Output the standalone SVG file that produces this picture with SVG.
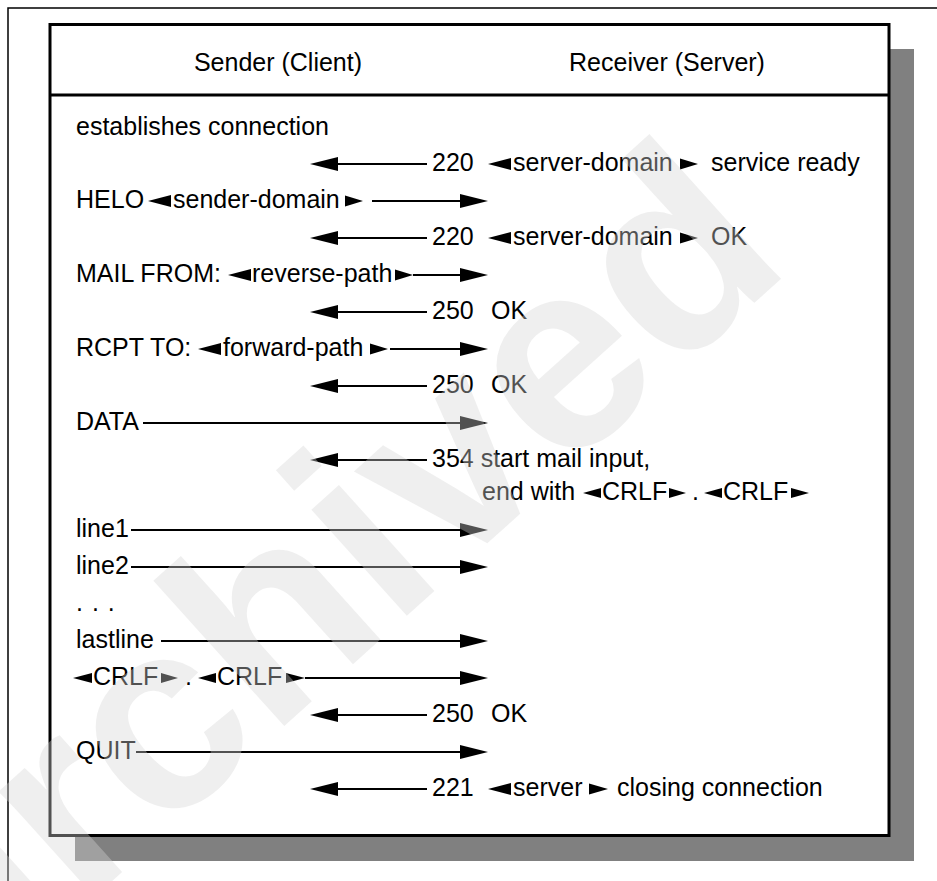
<svg xmlns="http://www.w3.org/2000/svg" width="937" height="881" viewBox="0 0 937 881">
<style>
text{font-family:"Liberation Sans",Arial,sans-serif;font-size:25px;fill:#000}
.hd{text-anchor:middle}
.ar{stroke:#000;stroke-width:2;fill:none;marker-end:url(#ah)}
.tri{fill:#000}
.wm{font-family:"Liberation Sans",Arial,sans-serif;font-weight:bold;font-size:270px;fill:#d5d5d5;fill-opacity:0.38}
</style>
<defs>
<marker id="ah" viewBox="0 0 28 14" refX="20" refY="7" markerWidth="28" markerHeight="14" markerUnits="userSpaceOnUse" orient="auto">
<path d="M0,0 L28,7 L0,14 z" fill="#000"/>
</marker>
</defs>
<rect width="937" height="881" fill="#fff"/>
<path d="M8,881 V8 H937" stroke="#000" stroke-width="1.5" fill="none"/>
<rect x="75" y="49" width="839" height="812" fill="#808080"/>
<g id="frame">
<rect x="50" y="24.5" width="839" height="811" fill="#fff" stroke="#000" stroke-width="3"/>
<line x1="50" y1="95" x2="889" y2="95" stroke="#000" stroke-width="3"/>
</g>
<g id="sender-header"><text class="hd" x="278" y="71">Sender (Client)</text></g>
<g id="receiver-header"><text class="hd" x="667" y="71">Receiver (Server)</text></g>

<g id="row0"><text x="76" y="135">establishes connection</text></g>

<g id="row1">
<text x="432" y="171">220</text>
<polygon class="tri" points="488,164 511,158 511,170"/>
<text x="513" y="171">server-domain</text>
<polygon class="tri" points="680,158.5 698,164 680,169.5"/>
<text x="711" y="171">service ready</text>
</g>
<g id="row2">
<text x="76" y="208">HELO</text>
<polygon class="tri" points="148,201 171,195 171,207"/>
<text x="173" y="208">sender-domain</text>
<polygon class="tri" points="345,195.5 363,201 345,206.5"/>
</g>
<g id="row3">
<text x="432" y="245">220</text>
<polygon class="tri" points="488,238 511,232 511,244"/>
<text x="513" y="245">server-domain</text>
<polygon class="tri" points="680,232.5 698,238 680,243.5"/>
<text x="711" y="245">OK</text>
</g>
<g id="row4">
<text x="76" y="282">MAIL FROM:</text>
<polygon class="tri" points="228,275 251,269 251,281"/>
<text x="252" y="282">reverse-path</text>
<polygon class="tri" points="395,269.5 413,275 395,280.5"/>
</g>
<g id="row5"><text x="432" y="319">250</text><text x="491" y="319">OK</text></g>
<g id="row6">
<text x="76" y="356">RCPT TO:</text>
<polygon class="tri" points="198,349 221,343 221,355"/>
<text x="223" y="356">forward-path</text>
<polygon class="tri" points="370,343.5 388,349 370,354.5"/>
</g>
<g id="row7"><text x="432" y="393">250</text><text x="491" y="393">OK</text></g>
<g id="row8"><text x="76" y="430">DATA</text></g>
<g id="row9"><text x="432" y="467">354 start mail input,</text></g>
<g id="row10">
<text x="482" y="500">end with</text>
<polygon class="tri" points="583,493 601,488 601,498"/>
<text x="602" y="500">CRLF</text>
<polygon class="tri" points="669,488 686,493 669,498"/>
<text x="692" y="500">.</text>
<polygon class="tri" points="704,493 722,488 722,498"/>
<text x="723" y="500">CRLF</text>
<polygon class="tri" points="791,488 809,493 791,498"/>
</g>
<g id="row11"><text x="76" y="537">line1</text></g>
<g id="row12"><text x="76" y="574">line2</text></g>
<g id="row13"><text x="76" y="611" word-spacing="2">. . .</text></g>
<g id="row14"><text x="76" y="648">lastline</text></g>
<g id="row15">
<polygon class="tri" points="73,678 92,673 92,683"/>
<text x="93" y="685">CRLF</text>
<polygon class="tri" points="161,673 178,678 161,683"/>
<text x="185" y="685">.</text>
<polygon class="tri" points="198,678 216,673 216,683"/>
<text x="217" y="685">CRLF</text>
<polygon class="tri" points="286,673 305,678 286,683"/>
</g>
<g id="row16"><text x="432" y="722">250</text><text x="491" y="722">OK</text></g>
<g id="row17"><text x="76" y="759">QUIT</text></g>
<g id="row18">
<text x="432" y="796">221</text>
<polygon class="tri" points="488,789 511,783 511,795"/>
<text x="513" y="796">server</text>
<polygon class="tri" points="589,783.5 608,789 589,794.5"/>
<text x="617" y="796">closing connection</text>
</g>

<g id="connectors">
<path class="ar" d="M427,164 H318"/>
<path class="ar" d="M372,201 H480"/>
<path class="ar" d="M427,238 H318"/>
<path class="ar" d="M413,275 H480"/>
<path class="ar" d="M427,312 H318"/>
<path class="ar" d="M390,349 H480"/>
<path class="ar" d="M427,386 H318"/>
<path class="ar" d="M143,423 H480"/>
<path class="ar" d="M427,460 H318"/>
<path class="ar" d="M131,530 H480"/>
<path class="ar" d="M131,567 H480"/>
<path class="ar" d="M161,641 H480"/>
<path class="ar" d="M305,678 H480"/>
<path class="ar" d="M427,715 H318"/>
<path class="ar" d="M136,752 H480"/>
<path class="ar" d="M427,789 H318"/>
</g>

<text class="wm" transform="translate(-31,1010) rotate(-42)" x="0" y="0">archived</text>
</svg>
